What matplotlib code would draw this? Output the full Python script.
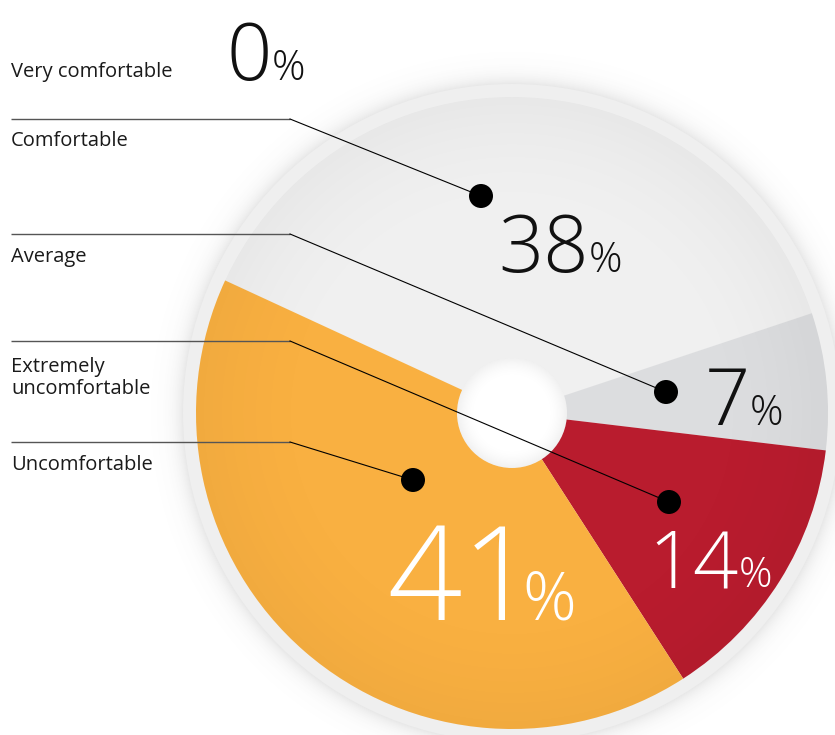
import numpy as np
import matplotlib.pyplot as plt
from matplotlib.patches import Circle

# --- Data ---
CATEGORIES = ["Very comfortable", "Comfortable", "Average",
              "Extremely\nuncomfortable", "Uncomfortable"]
SHARES = [0, 38, 7, 14, 41]
COLORS = ["#f0f0f0", "#f0f0f0", "#dcdddf", "#b91c2e", "#f9b041"]
TEXT_COLORS = ["#111111", "#111111", "#111111", "#ffffff", "#ffffff"]

# --- Layout (pixel space, y measured from the top) ---
W, H = 835, 735
CENTER = (512, 413)
RADIUS = 316
RING_RADIUS = 329
HOLE_RADIUS = 55
START_ANGLE = 155.2

LABEL_Y = [72, 141, 257, 378, 465]          # category text, left column
LEADER_Y = [None, 119, 234, 341, 442]       # horizontal leader rows
LEADER_BEND_X = 290
DOTS = [None, (481, 196), (666, 392), (669, 502), (413, 480)]
# (number right x, % left x, baseline y, number size, % size)
VALUE_POS = [(272, 272, 80, 57, 30), (589, 589, 272, 57, 30),
             (750, 750, 425, 57, 30), (739, 739, 587, 57, 30),
             (536, 522, 620, 94, 48)]

NUM_FONT = ["Open Sans", "DejaVu Sans"]
TEXT_FONT = ["Open Sans", "DejaVu Sans"]


def py(y):
    """Convert a top-down pixel row into the axes' bottom-up coordinate."""
    return H - y


def radial_image(ax, cx, cy, extent_r, alpha_fn, rgb, clip=None, zorder=1):
    n = 600
    xs = np.linspace(cx - extent_r, cx + extent_r, n)
    ys = np.linspace(cy - extent_r, cy + extent_r, n)
    X, Y = np.meshgrid(xs, ys)
    d = np.hypot(X - cx, Y - cy)
    img = np.zeros((n, n, 4))
    img[..., :3] = rgb
    img[..., 3] = alpha_fn(d)
    im = ax.imshow(img, extent=(xs[0], xs[-1], ys[0], ys[-1]), origin="lower",
                   interpolation="bilinear", zorder=zorder)
    if clip is not None:
        im.set_clip_path(clip)
    return im


fig = plt.figure(figsize=(W / 100, H / 100), dpi=100)
ax = fig.add_axes([0, 0, 1, 1])

cx, cy = CENTER[0], py(CENTER[1])

# soft drop shadow around the outer ring
radial_image(ax, cx, cy, RING_RADIUS + 40,
             lambda d: np.where(d > RING_RADIUS - 2,
                                0.15 * np.exp(-np.clip(d - RING_RADIUS, 0, None) / 9.0), 0),
             (0.35, 0.35, 0.35), zorder=0)

ring = Circle((cx, cy), RING_RADIUS, facecolor="#efefef", edgecolor="none", zorder=1)
ax.add_patch(ring)

wedges, _ = ax.pie(SHARES, colors=COLORS, startangle=START_ANGLE, counterclock=False,
                   radius=RADIUS, center=(cx, cy), frame=True,
                   wedgeprops=dict(linewidth=0, edgecolor="none"))
for w in wedges:
    w.set_zorder(2)

# rim shading over the pie
pie_clip = Circle((cx, cy), RADIUS, transform=ax.transData)
radial_image(ax, cx, cy, RADIUS,
             lambda d: 0.035 * np.clip((d / RADIUS - 0.55) / 0.45, 0, 1) ** 2,
             (0.0, 0.0, 0.0), clip=pie_clip, zorder=3)

# centre hole with a faint inner shade
hole = Circle((cx, cy), HOLE_RADIUS, facecolor="white", edgecolor="none", zorder=4)
ax.add_patch(hole)
hole_clip = Circle((cx, cy), HOLE_RADIUS, transform=ax.transData)
radial_image(ax, cx, cy, HOLE_RADIUS,
             lambda d: 0.06 * np.clip((d / HOLE_RADIUS - 0.6) / 0.4, 0, 1) ** 2,
             (0.0, 0.0, 0.0), clip=hole_clip, zorder=5)

# category names and leader lines
for name, ly, lead_y, dot in zip(CATEGORIES, LABEL_Y, LEADER_Y, DOTS):
    ax.text(11, py(ly), name, ha="left", va="center", fontsize=14.5,
            family=TEXT_FONT, color="#1a1a1a", linespacing=1.1, zorder=8)
    if lead_y is None:
        continue
    ax.plot([11, LEADER_BEND_X], [py(lead_y), py(lead_y)], color="#555555",
            lw=1.0, solid_capstyle="butt", zorder=6)
    ax.plot([LEADER_BEND_X, dot[0]], [py(lead_y), py(dot[1])], color="#000000",
            lw=0.8, zorder=6)
    ax.add_patch(Circle((dot[0], py(dot[1])), 12, facecolor="black",
                        edgecolor="none", zorder=7))

# value labels
for share, tc, (nx, px, by, ns, ps) in zip(SHARES, TEXT_COLORS, VALUE_POS):
    ax.text(nx, py(by), f"{share}", ha="right", va="baseline", fontsize=ns,
            family=NUM_FONT, fontweight="light", color=tc, zorder=8)
    ax.text(px, py(by), "%", ha="left", va="baseline", fontsize=ps,
            family=NUM_FONT, fontweight="light", color=tc, zorder=8)

ax.set_xlim(0, W)
ax.set_ylim(0, H)
ax.set_aspect("equal")
ax.axis("off")

fig.savefig("out.png", dpi=100, facecolor="white")
